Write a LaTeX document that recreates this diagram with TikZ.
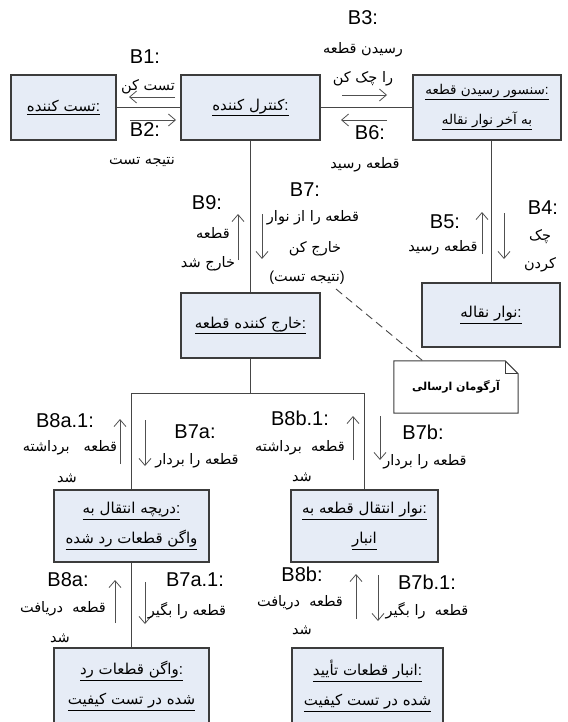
\documentclass[tikz,border=0pt]{standalone}
\usepackage{fontspec}
\setmainfont{Liberation Sans}
\newfontfamily\arabicfont[Script=Arabic]{DejaVu Sans}
\TeXXeTstate=1
\usetikzlibrary{arrows.meta,calc}
\newcommand\fa[1]{{\arabicfont\beginR #1\endR}}
\definecolor{boxfill}{RGB}{230,236,246}
\definecolor{boxline}{RGB}{60,60,60}
\definecolor{linegrey}{RGB}{70,70,70}
\definecolor{arrowgrey}{RGB}{80,80,80}
\tikzset{
  obj/.style={draw=boxline, fill=boxfill, line width=1.1pt, inner sep=0pt, align=center,
              font=\fontsize{15}{30}\selectfont},
  lbl/.style={font=\fontsize{20}{22}\selectfont, inner sep=0pt},
  fatxt/.style={font=\fontsize{14.5}{18}\selectfont, inner sep=0pt},
  msg/.style={-{Straight Barb[length=7pt,width=12pt]}, line width=0.8pt, draw=arrowgrey},
  link/.style={draw=linegrey, line width=1pt},
  notebox/.style={inner sep=0pt, minimum width=124pt, minimum height=52pt,
                  font=\fontsize{11}{13}\selectfont\bfseries}
}
\begin{document}
\begin{tikzpicture}[x=1pt,y=-1pt]
\useasboundingbox (0,0) rectangle (567,722);

% objects
\node[obj, minimum width=105pt, minimum height=65pt] (tester) at (63.5,107.5) {\underline{\fa{تست کننده}:}};
\node[obj, minimum width=139pt, minimum height=65pt] (ctrl) at (250.5,107.5) {\underline{\fa{کنترل کننده}:}};
\node[obj, minimum width=148pt, minimum height=65pt, font=\fontsize{13.5}{30}\selectfont] (sensor) at (487,107.5)
  {\underline{\fa{سنسور رسیدن قطعه}:}\\\underline{\fa{به آخر نوار نقاله}}};
\node[obj, minimum width=139pt, minimum height=65pt] (extract) at (250.5,325.5) {\underline{\fa{خارج کننده قطعه}:}};
\node[obj, minimum width=138pt, minimum height=64pt] (belt) at (491,315) {\underline{\fa{نوار نقاله}:}};
\node[obj, minimum width=155pt, minimum height=72pt] (gate) at (131.5,526)
  {\underline{\fa{دریچه انتقال به}:}\\\underline{\fa{واگن قطعات رد شده}}};
\node[obj, minimum width=147pt, minimum height=72pt] (tostore) at (364.5,526)
  {\underline{\fa{نوار انتقال قطعه به}:}\\\underline{\fa{انبار}}};
\node[obj, minimum width=155pt, minimum height=76pt] (wagon) at (131.5,686)
  {\underline{\fa{واگن قطعات رد}:}\\\underline{\fa{شده در تست کیفیت}}};
\node[obj, minimum width=151pt, minimum height=76pt] (store) at (367.5,686)
  {\underline{\fa{انبار قطعات تأیید}:}\\\underline{\fa{شده در تست کیفیت}}};

% note with folded corner
\node[notebox] (note) at (456,387) {};
\draw[draw=boxline, line width=1pt, fill=white]
  (note.north west) -- ($(note.north east)+(-13,0)$) -- ($(note.north east)+(0,13)$)
  -- (note.south east) -- (note.south west) -- cycle;
\draw[draw=boxline, line width=0.8pt] ($(note.north east)+(-13,0)$) -- ($(note.north east)+(-13,13)$) -- ($(note.north east)+(0,13)$);
\node[notebox] at (note.center) {\fa{آرگومان ارسالی}};
\coordinate (argsrc) at (336,289);
\draw[draw=linegrey, line width=0.9pt, dash pattern=on 8pt off 5pt] (argsrc) -- ($(note.north west)+(29,0)$);

% links
\draw[link] (tester.east) -- (ctrl.west);
\draw[link] (ctrl.east) -- (sensor.west);
\draw[link] (ctrl.south) -- (extract.north);
\draw[link] (sensor.south) ++(4,0) coordinate (sdrop) -- (sdrop |- belt.north);
\coordinate (split) at (250.5,393);
\draw[link] (extract.south) -- (split);
\draw[link] (gate.north) -- (gate.north |- split) -- (tostore.north |- split) -- (tostore.north);
\draw[link] (gate.south) -- (wagon.north);
\draw[link] ($(tostore.south)+(2,0)$) -- ($(tostore.south)+(2,0)$ |- store.north);

% messages: tester / controller
\node[lbl] at (145,57) {B1:};
\node[fatxt] at (148,87) {\fa{تست کن}};
\draw[msg] (175,97) -- (129,97);
\draw[msg] (130,120) -- (176,120);
\node[lbl] at (145,130) {B2:};
\node[fatxt] at (142,162) {\fa{نتیجه تست}};

% controller / sensor
\node[lbl] at (363,18) {B3:};
\node[fatxt] at (363,50) {\fa{رسیدن قطعه}};
\node[fatxt] at (363,79) {\fa{را چک کن}};
\draw[msg] (342,95) -- (387,95);
\draw[msg] (387,120) -- (341,120);
\node[lbl] at (370,133) {B6:};
\node[fatxt] at (365,165) {\fa{قطعه رسید}};

% controller / extractor
\node[lbl] at (207,203) {B9:};
\draw[msg] (238,260) -- (238,214);
\node[fatxt] at (213,233) {\fa{قطعه}};
\node[fatxt] at (208,264) {\fa{خارج شد}};
\node[lbl] at (305,190) {B7:};
\draw[msg] (262,214) -- (262,259);
\node[fatxt] at (313,218) {\fa{قطعه را از نوار}};
\node[fatxt] at (315,249) {\fa{خارج کن}};
\node[fatxt] at (307,278) {(\fa{نتیجه تست})};

% sensor / belt
\node[lbl] at (445,222) {B5:};
\draw[msg] (482,254) -- (482,212);
\node[fatxt] at (443,248) {\fa{قطعه رسید}};
\node[lbl] at (543,208) {B4:};
\draw[msg] (504,213) -- (504,259);
\node[fatxt] at (540,237) {\fa{چک}};
\node[fatxt] at (540,265) {\fa{کردن}};

% extractor / gate
\node[lbl] at (65,421) {B8a.1:};
\draw[msg] (120,464) -- (120,419);
\node[fatxt] at (70,448) {\fa{قطعه\ \ \ برداشته}};
\node[fatxt] at (67,478) {\fa{شد}};
\node[lbl] at (195,432) {B7a:};
\draw[msg] (145,420) -- (145,466);
\node[fatxt] at (197,461) {\fa{قطعه را بردار}};

% extractor / store belt
\node[lbl] at (300,418) {B8b.1:};
\draw[msg] (353,460) -- (353,416);
\node[fatxt] at (300,448) {\fa{قطعه\ \ برداشته}};
\node[fatxt] at (302,477) {\fa{شد}};
\node[lbl] at (423,432) {B7b:};
\draw[msg] (380,416) -- (380,460);
\node[fatxt] at (425,462) {\fa{قطعه را بردار}};

% gate / wagon
\node[lbl] at (68,580) {B8a:};
\draw[msg] (115,623) -- (115,580);
\node[fatxt] at (63,609) {\fa{قطعه\ \ دریافت}};
\node[fatxt] at (60,638) {\fa{شد}};
\node[lbl] at (195,580) {B7a.1:};
\draw[msg] (145,582) -- (145,624);
\node[fatxt] at (187,611) {\fa{قطعه را بگیر}};

% store belt / store
\node[lbl] at (302,574) {B8b:};
\draw[msg] (356,619) -- (356,574);
\node[fatxt] at (300,603) {\fa{قطعه\ \ دریافت}};
\node[fatxt] at (302,630) {\fa{شد}};
\node[lbl] at (427,582) {B7b.1:};
\draw[msg] (378,575) -- (378,621);
\node[fatxt] at (427,611) {\fa{قطعه\ \ را بگیر}};
\end{tikzpicture}
\end{document}
